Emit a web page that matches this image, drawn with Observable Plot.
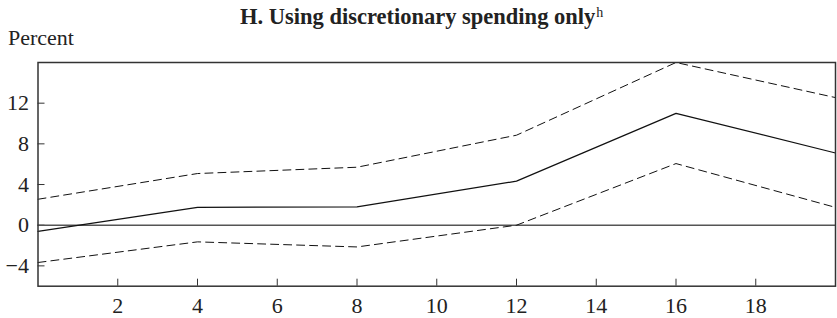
<!DOCTYPE html>
<html>
<head>
<meta charset="utf-8">
<script src="https://cdn.jsdelivr.net/npm/d3@7"></script>
<script src="https://cdn.jsdelivr.net/npm/@observablehq/plot@0.6"></script>
<style>
  body { margin: 0; background: #fff; }
  #wrap { position: relative; width: 837px; height: 318px; font-family: "Liberation Serif", "Times New Roman", serif; color: #222; }
  #title { position: absolute; left: 240px; top: 6px; font-size: 22.5px; font-weight: bold; white-space: nowrap; line-height: 1; }
  #title sup { font-weight: normal; font-size: 14px; vertical-align: 0; position: relative; top: -7px; margin-left: 1px; }
  #unit { position: absolute; left: 8px; top: 27px; font-size: 22px; line-height: 1; }
  #chart { position: absolute; left: 0; top: 0; }
</style>
</head>
<body>
<div id="wrap">
  <div id="chart"></div>
  <div id="title">H. Using discretionary spending only<sup>h</sup></div>
  <div id="unit">Percent</div>
</div>
<script>
const quarters = [0, 4, 8, 12, 16, 20];
const estimate = [-0.6, 1.75, 1.8, 4.33, 11.0, 7.1];
const upperBand = [2.55, 5.08, 5.7, 8.85, 16.0, 12.55];
const lowerBand = [-3.67, -1.64, -2.14, 0.0, 6.06, 1.75];
const xTicks = [2, 4, 6, 8, 10, 12, 14, 16, 18];
const yTicks = [-4, 0, 4, 8, 12];

const rows = (vals) => quarters.map((q, i) => ({q, v: vals[i]}));

const W = 837, H = 318, mL = 37.5, mR = 2, mT = 62, mB = 32.3;
const tickLen = 7;

const chart = Plot.plot({
  width: W,
  height: H,
  marginLeft: mL,
  marginRight: mR,
  marginTop: mT,
  marginBottom: mB,
  style: {fontFamily: "'Liberation Serif', 'Times New Roman', serif", fontSize: "22px", color: "#222", background: "#fff"},
  x: {domain: [0, 20]},
  y: {domain: [-6, 16]},
  marks: [
    Plot.axisX(xTicks, {tickSize: 0, tickPadding: 11, label: null}),
    Plot.axisY(yTicks, {tickSize: 0, tickPadding: 9, label: null}),
    Plot.tickX(xTicks, {x: d => d, stroke: "#333", insetTop: H - mT - mB - tickLen}),
    Plot.tickY(yTicks, {y: d => d, stroke: "#333", insetRight: W - mL - mR - tickLen}),
    Plot.ruleY([0], {stroke: "#555", strokeWidth: 1.5}),
    Plot.line(rows(upperBand), {x: "q", y: "v", stroke: "#111", strokeWidth: 1, strokeDasharray: "8,5"}),
    Plot.line(rows(lowerBand), {x: "q", y: "v", stroke: "#111", strokeWidth: 1, strokeDasharray: "8,5"}),
    Plot.line(rows(estimate), {x: "q", y: "v", stroke: "#111", strokeWidth: 1.2}),
    Plot.frame({stroke: "#333", strokeWidth: 1.5})
  ]
});
document.getElementById("chart").appendChild(chart);
</script>
</body>
</html>
